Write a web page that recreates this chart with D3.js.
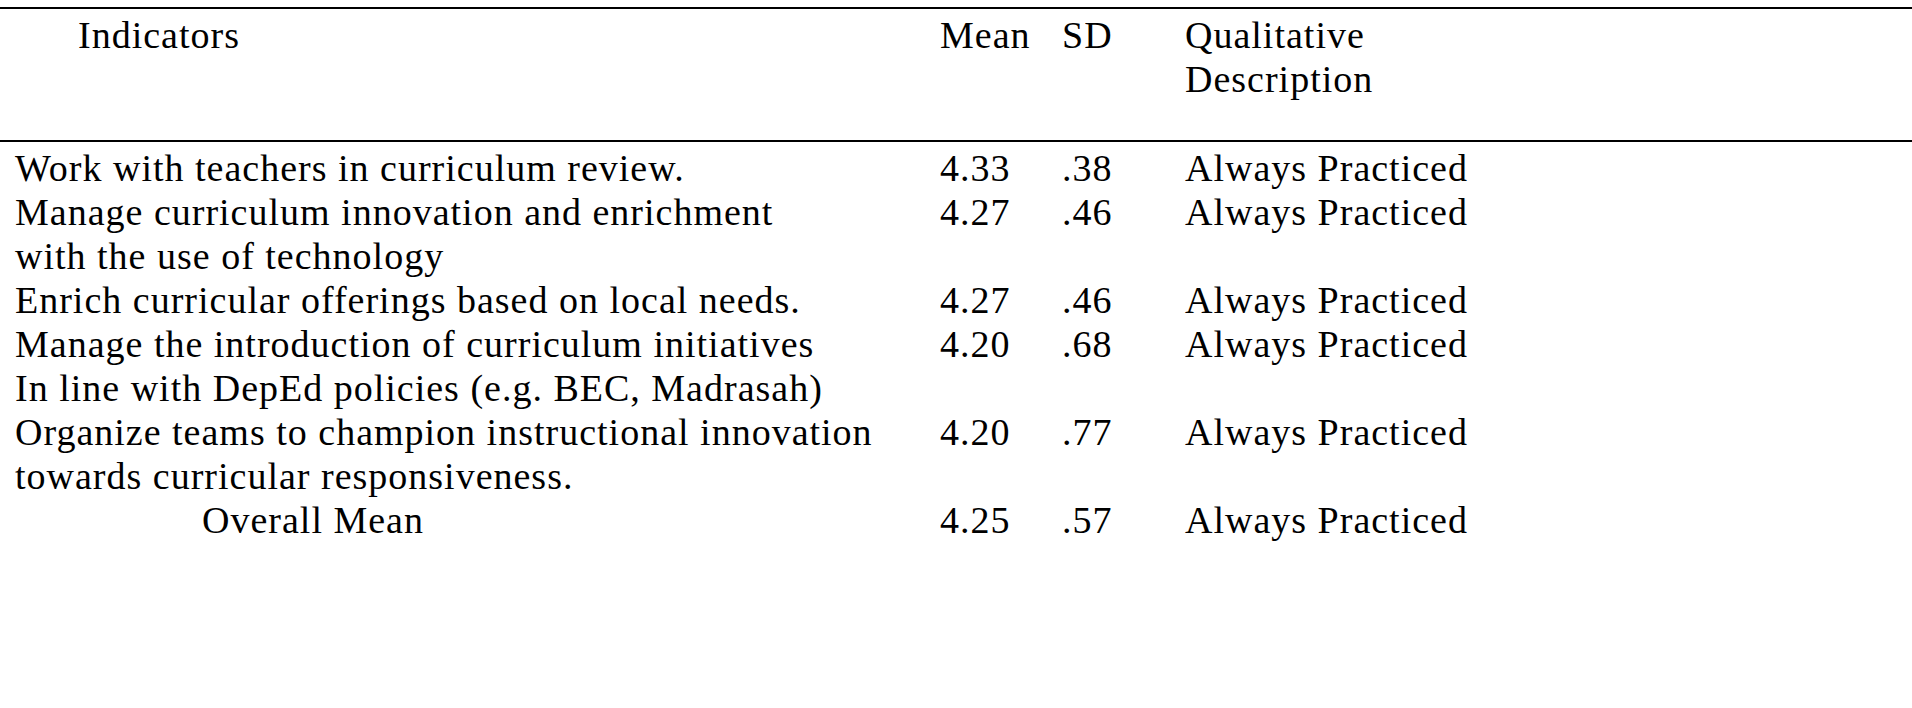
<!DOCTYPE html>
<html><head><meta charset="utf-8">
<script src="https://cdn.jsdelivr.net/npm/d3@7"></script>
<style>body{margin:0;background:#fff}</style></head>
<body><svg id="c" width="1912" height="708"></svg>
<script>
const headers = [{t:"Indicators",x:78,l:0},{t:"Mean",x:940,l:0},{t:"SD",x:1062,l:0},{t:"Qualitative",x:1185,l:0},{t:"Description",x:1185,l:1}];
const indicators = [
 ["Work with teachers in curriculum review."],
 ["Manage curriculum innovation and enrichment","with the use of technology"],
 ["Enrich curricular offerings based on local needs."],
 ["Manage the introduction of curriculum initiatives","In line with DepEd policies (e.g. BEC, Madrasah)"],
 ["Organize teams to champion instructional innovation","towards curricular responsiveness."]
];
const means = ["4.33","4.27","4.27","4.20","4.20"];
const sds = [".38",".46",".46",".68",".77"];
const descs = ["Always Practiced","Always Practiced","Always Practiced","Always Practiced","Always Practiced"];
const overall = {label:"Overall Mean", mean:"4.25", sd:".57", desc:"Always Practiced"};

const svg = d3.select("#c");
const font = "'Liberation Serif', serif";
const lineY = d3.scaleLinear().domain([0,1]).range([181,225]);
const hY = d3.scaleLinear().domain([0,1]).range([48,92]);
const txt = (t,x,y)=>svg.append("text").attr("x",x).attr("y",y).attr("font-family",font).attr("font-size",38).attr("letter-spacing","1px").attr("fill","#000").text(t);
svg.append("line").attr("x1",0).attr("x2",1912).attr("y1",8).attr("y2",8).attr("stroke","#000").attr("stroke-width",2);
svg.append("line").attr("x1",0).attr("x2",1912).attr("y1",141).attr("y2",141).attr("stroke","#000").attr("stroke-width",2);
headers.forEach(h=>txt(h.t,h.x,hY(h.l)));
let li=0;
indicators.forEach((lines,i)=>{
  txt(means[i],940,lineY(li)); txt(sds[i],1062,lineY(li)); txt(descs[i],1185,lineY(li));
  lines.forEach(s=>{txt(s,15,lineY(li)); li++;});
});
txt(overall.label,202,lineY(li)); txt(overall.mean,940,lineY(li)); txt(overall.sd,1062,lineY(li)); txt(overall.desc,1185,lineY(li));
</script></body></html>
